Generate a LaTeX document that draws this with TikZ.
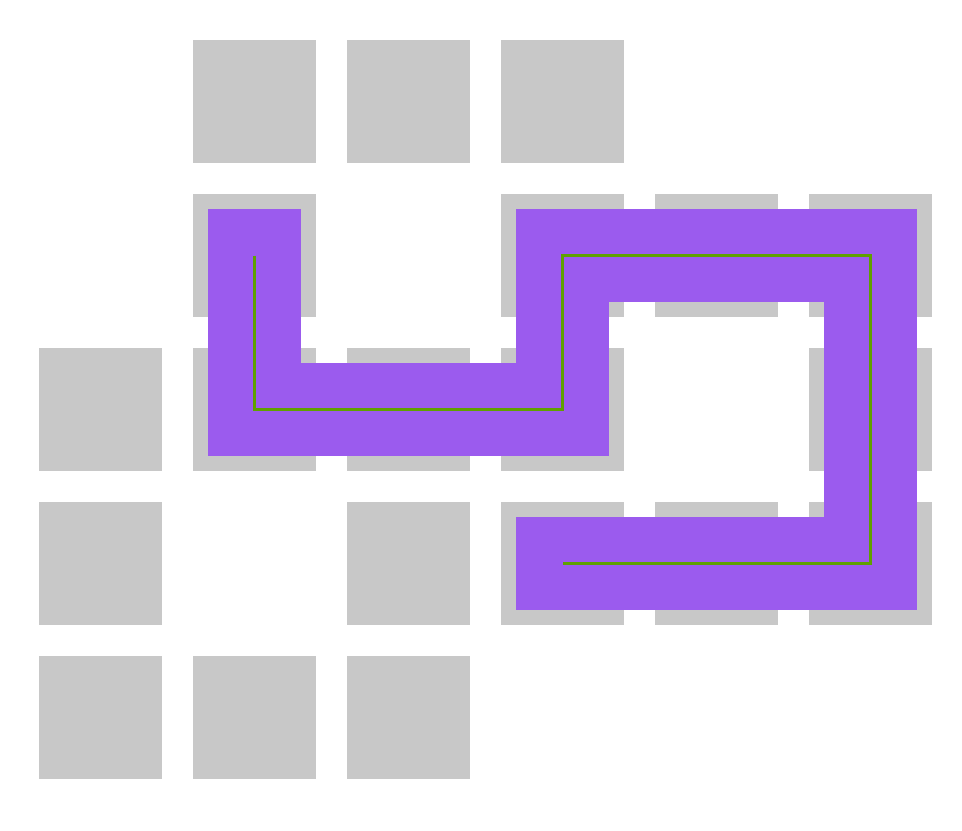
\documentclass[tikz,border=0pt]{standalone}
\usetikzlibrary{positioning}

\definecolor{cellgray}{HTML}{C8C8C8}
\definecolor{routepurple}{HTML}{9B5BEE}
\definecolor{routegreen}{HTML}{5FA000}

\begin{document}
\begin{tikzpicture}[
    x=0.01cm, y=-0.01cm,
    cell/.style={rectangle, fill=cellgray, minimum size=1.23cm, inner sep=0pt},
    wire/.style={line width=0.92cm, routepurple, line cap=rect},
    trace/.style={line width=0.7pt, routegreen, line join=miter}
]
    \useasboundingbox (0,0) rectangle (962,830);

    % grid cells (column/row)
    \foreach \c/\r in {1/0,2/0,3/0, 1/1,3/1,4/1,5/1, 0/2,1/2,2/2,3/2,5/2, 0/3,2/3,3/3,4/3,5/3, 0/4,1/4,2/4}
        \node[cell] (c\c-\r) at ({100.5+154*\c},{101.5+154*\r}) {};

    % route
    \draw[wire] (c1-1.center) -- (c1-2.center);
    \draw[wire] (c1-2.center) -- (c3-2.center);
    \draw[wire] (c3-2.center) -- (c3-1.center);
    \draw[wire] (c3-1.center) -- (c5-1.center);
    \draw[wire] (c5-1.center) -- (c5-3.center);
    \draw[wire] (c5-3.center) -- (c3-3.center);

    \draw[trace] (c1-1.center) -- (c1-2.center) -- (c3-2.center) -- (c3-1.center)
        -- (c5-1.center) -- (c5-3.center) -- (c3-3.center);
\end{tikzpicture}
\end{document}
